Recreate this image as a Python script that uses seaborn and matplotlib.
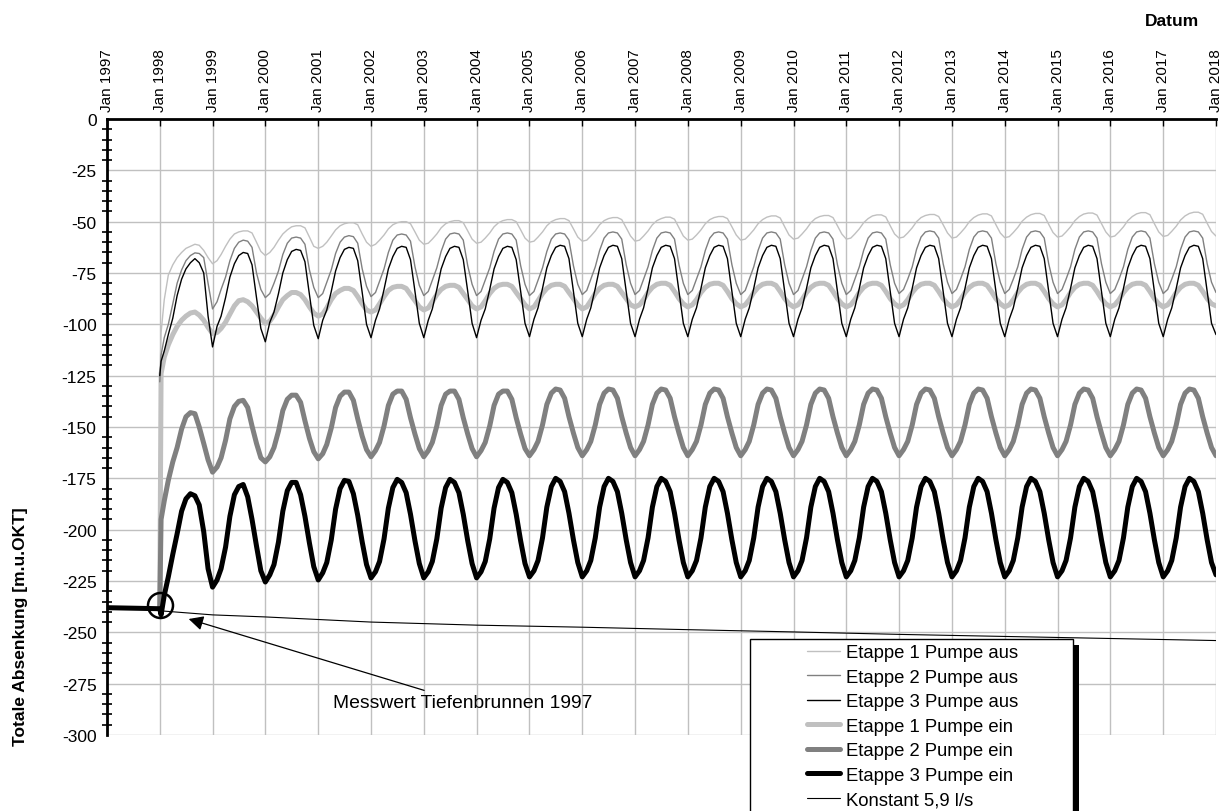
import numpy as np
import pandas as pd
import matplotlib
matplotlib.use("Agg")
import matplotlib.pyplot as plt
import matplotlib.dates as mdates
from matplotlib.ticker import MultipleLocator
from matplotlib.patches import Rectangle
from matplotlib.lines import Line2D
import seaborn as sns

nan = np.nan

# ---------------- data ----------------
# x: 1997-01-01, 1998-01-01, 1998-01-10, then monthly 1998-02-01 ... 2018-01-01
dates = pd.to_datetime(["1997-01-01", "1998-01-01", "1998-01-10"]).append(
    pd.date_range("1998-02-01", "2018-01-01", freq="MS"))

etappe1_aus = [
    nan, -131, -104, -88, -76, -71, -67.5, -65, -63, -62, -61, -61.5, -64, -67.5,
    -70.5, -69, -66, -62, -58.5, -56, -55, -54.5, -54.5, -55.5, -60, -64.5,
    -66.5, -65, -62.5, -59, -56, -54, -52.5, -52, -52, -53, -57.5, -62,
    -63, -62, -60, -57, -54, -52, -51, -50.5, -50.5, -51.5, -56, -60,
    -62, -61, -59, -56.5, -53.5, -51.5, -50.5, -50, -50, -51, -55, -59,
    -61, -60.5, -58.5, -56, -53, -51, -50, -49.5, -49.5, -50.5, -54.5, -58.5,
    -60.5, -60, -58, -55.5, -52.5, -50.5, -49.5, -49, -49, -50, -54, -58,
    -60, -59.5, -57.5, -55, -52, -50, -49, -48.5, -48.5, -49.5, -53.5, -57.5,
    -59.5, -59, -57, -54.5, -51.5, -49.5, -48.5, -48, -48, -49, -53, -57,
    -59.5, -59, -57, -54.5, -51.5, -49.5, -48.5, -47.8, -47.8, -48.8, -53, -57,
    -59, -58.5, -56.5, -54, -51, -49, -48, -47.5, -47.5, -48.5, -52.5, -56.5,
    -59, -58.5, -56.5, -54, -51, -49, -47.8, -47.2, -47.2, -48.2, -52.5, -56.5,
    -58.5, -58, -56, -53.5, -50.5, -48.5, -47.5, -47, -47, -48, -52, -56,
    -58.5, -58, -56, -53.5, -50.5, -48.5, -47.2, -46.7, -46.7, -47.7, -52, -56,
    -58, -57.5, -55.5, -53, -50, -48, -47, -46.5, -46.5, -47.5, -51.5, -55.5,
    -58, -57.5, -55.5, -53, -50, -48, -46.8, -46.2, -46.2, -47.2, -51.5, -55.5,
    -57.8, -57.3, -55.3, -52.8, -49.8, -47.8, -46.6, -46, -46, -47, -51.3, -55.3,
    -57.5, -57, -55, -52.5, -49.5, -47.5, -46.3, -45.8, -45.8, -46.8, -51, -55,
    -57.5, -57, -55, -52.5, -49.5, -47.5, -46.2, -45.6, -45.6, -46.6, -51, -55,
    -57.2, -56.7, -54.7, -52.2, -49.2, -47.2, -46, -45.4, -45.4, -46.4, -50.8, -54.8,
    -57,
]

etappe2_aus = [
    nan, -128, -115, -106.5, -100, -90, -80, -73.5, -69, -66.5, -65.2, -65.5, -67.5, -80,
    -92.5, -89, -83, -77, -69, -63, -60, -59, -59.5, -62.5, -75, -83,
    -87, -85, -80, -74, -66, -60.5, -58, -57.5, -58, -61, -73.5, -82,
    -87, -85, -79.5, -73.5, -65.5, -60, -57.5, -56.8, -57.3, -60.5, -73, -81.5,
    -86.5, -84.5, -79, -73, -65, -59, -56.5, -56, -56.5, -59.5, -72, -81,
    -86, -84, -78.5, -72.5, -64.5, -58.5, -56, -55.5, -56, -59, -71.5, -80.5,
    -86, -84, -78.5, -72.5, -64.5, -58.5, -56, -55.5, -56, -59, -71.5, -80.5,
    -86, -84, -78.5, -72.5, -64.5, -58.5, -56, -55.5, -56, -59, -71.5, -80.5,
    -85.5, -83.5, -78, -72, -64, -58, -55.5, -55, -55.5, -58.5, -71, -80,
    -85.5, -83.5, -78, -72, -64, -58, -55.5, -55, -55.5, -58.5, -71, -80,
    -85.5, -83.5, -78, -72, -64, -58, -55.5, -55, -55.5, -58.5, -71, -80,
    -85.5, -83.5, -78, -72, -64, -58, -55.5, -55, -55.5, -58.5, -71, -80,
    -85.5, -83.5, -78, -72, -64, -58, -55.5, -55, -55.5, -58.5, -71, -80,
    -85.5, -83.5, -78, -72, -64, -58, -55.5, -55, -55.5, -58.5, -71, -80,
    -85, -83, -78, -72, -63.5, -57.5, -55, -54.5, -55, -58, -70.5, -79.5,
    -85, -83, -78, -72, -63.5, -57.5, -55, -54.5, -55, -58, -70.5, -79.5,
    -85, -83, -78, -72, -63.5, -57.5, -55, -54.5, -55, -58, -70.5, -79.5,
    -85, -83, -78, -72, -63.5, -57.5, -55, -54.5, -55, -58, -70.5, -79.5,
    -85, -83, -78, -72, -63.5, -57.5, -55, -54.5, -55, -58, -70.5, -79.5,
    -85, -83, -78, -72, -63.5, -57.5, -55, -54.5, -55, -58, -70.5, -79.5,
    -84.5,
]

etappe3_aus = [
    nan, -125, -118, -113, -105, -97, -86, -78, -73, -70, -68, -70, -75, -96,
    -111, -101, -96, -87, -77, -70.5, -66.5, -65, -65.5, -71, -87, -102,
    -108.5, -99, -94, -85, -75, -68.5, -64.5, -63.5, -64, -69.5, -85.5, -100.5,
    -107, -98, -93, -84, -74, -67.5, -63.5, -62.5, -63, -69, -84.5, -100,
    -106.5, -98, -92.5, -83, -73, -67, -63, -62, -62.5, -68.5, -84, -99.5,
    -106.5, -98, -92.5, -83, -73, -67, -63, -62, -62.5, -68.5, -84, -99.5,
    -106.5, -98, -92.5, -83, -73, -67, -63, -62, -62.5, -68.5, -84, -99.5,
    -106, -97.5, -92, -82.5, -72.5, -66.5, -62.5, -61.5, -62, -68, -84, -99.5,
    -106, -97.5, -92, -82.5, -72.5, -66.5, -62.5, -61.5, -62, -68, -84, -99.5,
    -106, -97.5, -92, -82.5, -72.5, -66.5, -62.5, -61.5, -62, -68, -84, -99.5,
    -106, -97.5, -92, -82.5, -72.5, -66.5, -62.5, -61.5, -62, -68, -84, -99.5,
    -106, -97.5, -92, -82.5, -72.5, -66.5, -62.5, -61.5, -62, -68, -84, -99.5,
    -106, -97.5, -92, -82.5, -72.5, -66.5, -62.5, -61.5, -62, -68, -84, -99.5,
    -106, -97.5, -92, -82.5, -72.5, -66.5, -62.5, -61.5, -62, -68, -84, -99.5,
    -106, -97.5, -92, -82.5, -72.5, -66.5, -62.5, -61.5, -62, -68, -84, -99.5,
    -106, -97.5, -92, -82.5, -72.5, -66.5, -62.5, -61.5, -62, -68, -84, -99.5,
    -106, -97.5, -92, -82.5, -72.5, -66.5, -62.5, -61.5, -62, -68, -84, -99.5,
    -106, -97.5, -92, -82.5, -72.5, -66.5, -62.5, -61.5, -62, -68, -84, -99.5,
    -106, -97.5, -92, -82.5, -72.5, -66.5, -62.5, -61.5, -62, -68, -84, -99.5,
    -106, -97.5, -92, -82.5, -72.5, -66.5, -62.5, -61.5, -62, -68, -84, -99.5,
    -105,
]

etappe1_ein = [
    nan, -238, -124, -116, -110, -105, -101, -98, -96, -94.5, -94, -95.5, -98, -101.5,
    -104.5, -104, -102, -99, -95, -91, -88.5, -88, -89, -91, -94, -97,
    -99.5, -98.5, -95.5, -91.5, -88, -86, -84.5, -84.5, -85.5, -88, -91.5, -94.5,
    -96, -95, -92, -88, -85, -83.5, -82.5, -82.5, -83.5, -86.5, -90, -93,
    -94, -93, -90, -86.5, -83.5, -82, -81.5, -81.5, -82.5, -85.5, -88.5, -91.5,
    -93, -92, -89, -85.5, -83, -81.5, -81, -81, -82, -85, -88, -91,
    -92.5, -91.5, -88.5, -85, -82.5, -81, -80.5, -80.5, -81.5, -84.5, -87.5, -90.5,
    -92.5, -91.5, -88.5, -85, -82.5, -81, -80.5, -80.5, -81.5, -84.5, -87.5, -90.5,
    -92.5, -91.5, -88.5, -85, -82.5, -81, -80.5, -80.5, -81.5, -84.5, -87.5, -90.5,
    -91.5, -90.5, -88, -84.5, -82, -80.5, -80, -80, -81, -84, -87.5, -90,
    -91.5, -90.5, -88, -84.5, -82, -80.5, -80, -80, -81, -84, -87.5, -90,
    -91.5, -90.5, -88, -84.5, -82, -80.5, -80, -80, -81, -84, -87.5, -90,
    -91.5, -90.5, -88, -84.5, -82, -80.5, -80, -80, -81, -84, -87.5, -90,
    -91.5, -90.5, -88, -84.5, -82, -80.5, -80, -80, -81, -84, -87.5, -90,
    -91.5, -90.5, -88, -84.5, -82, -80.5, -80, -80, -81, -84, -87.5, -90,
    -91.5, -90.5, -88, -84.5, -82, -80.5, -80, -80, -81, -84, -87.5, -90,
    -91.5, -90.5, -88, -84.5, -82, -80.5, -80, -80, -81, -84, -87.5, -90,
    -91.5, -90.5, -88, -84.5, -82, -80.5, -80, -80, -81, -84, -87.5, -90,
    -91.5, -90.5, -88, -84.5, -82, -80.5, -80, -80, -81, -84, -87.5, -90,
    -91.5, -90.5, -88, -84.5, -82, -80.5, -80, -80, -81, -84, -87.5, -90,
    -91,
]

etappe2_ein = [
    nan, -238, -195, -186, -176, -167, -160, -151, -145, -143, -143.5, -150, -158, -166,
    -172, -169.5, -165, -156.5, -146, -140, -137.5, -137, -140.5, -149.5, -158, -165,
    -167, -164.5, -160, -152, -142, -136.5, -134.5, -134.5, -138, -147, -155.5, -162,
    -165.5, -163, -158.5, -150.5, -140.5, -135, -133, -133, -137, -146, -154.5, -161,
    -164.5, -161.5, -157.5, -149.5, -139.5, -134, -132.5, -132.5, -136.5, -145.5, -153.5, -160.5,
    -164.5, -161.5, -157.5, -149.5, -139.5, -134, -132.5, -132.5, -136.5, -145.5, -153.5, -160.5,
    -164.5, -161.5, -157.5, -149.5, -139.5, -134, -132.5, -132.5, -136.5, -145.5, -153.5, -160.5,
    -164, -161, -157, -149, -139, -133.5, -131.5, -132, -136, -145, -153, -160,
    -164, -161, -157, -149, -139, -133.5, -131.5, -132, -136, -145, -153, -160,
    -164, -161, -157, -149, -139, -133.5, -131.5, -132, -136, -145, -153, -160,
    -164, -161, -157, -149, -139, -133.5, -131.5, -132, -136, -145, -153, -160,
    -164, -161, -157, -149, -139, -133.5, -131.5, -132, -136, -145, -153, -160,
    -164, -161, -157, -149, -139, -133.5, -131.5, -132, -136, -145, -153, -160,
    -164, -161, -157, -149, -139, -133.5, -131.5, -132, -136, -145, -153, -160,
    -164, -161, -157, -149, -139, -133.5, -131.5, -132, -136, -145, -153, -160,
    -164, -161, -157, -149, -139, -133.5, -131.5, -132, -136, -145, -153, -160,
    -164, -161, -157, -149, -139, -133.5, -131.5, -132, -136, -145, -153, -160,
    -164, -161, -157, -149, -139, -133.5, -131.5, -132, -136, -145, -153, -160,
    -164, -161, -157, -149, -139, -133.5, -131.5, -132, -136, -145, -153, -160,
    -164, -161, -157, -149, -139, -133.5, -131.5, -132, -136, -145, -153, -160,
    -164,
]

etappe3_ein = [
    -238, -238.5, -241.5, -232, -223, -212, -202, -191, -185, -182.5, -183.5, -188, -201, -219,
    -228, -224.5, -219, -208.5, -193.5, -183, -179, -178, -184, -195, -208, -220,
    -225.5, -222, -217, -206, -191, -181, -177, -177, -183, -193.5, -206.5, -218,
    -224.5, -221, -216, -205, -190, -180, -176, -176.5, -182.5, -193, -206, -217,
    -223.5, -220.5, -215.5, -204.5, -189.5, -179.5, -175.5, -177, -182, -192.5, -205.5, -216.5,
    -223.5, -220.5, -215.5, -204.5, -189.5, -179.5, -175.5, -177, -182, -192.5, -205.5, -216.5,
    -223.5, -220.5, -215.5, -204.5, -189.5, -179.5, -175.5, -177, -182, -192.5, -205.5, -216.5,
    -223, -220, -215, -204, -189, -179, -175, -176.5, -181.5, -192, -205, -216,
    -223, -220, -215, -204, -189, -179, -175, -176.5, -181.5, -192, -205, -216,
    -223, -220, -215, -204, -189, -179, -175, -176.5, -181.5, -192, -205, -216,
    -223, -220, -215, -204, -189, -179, -175, -176.5, -181.5, -192, -205, -216,
    -223, -220, -215, -204, -189, -179, -175, -176.5, -181.5, -192, -205, -216,
    -223, -220, -215, -204, -189, -179, -175, -176.5, -181.5, -192, -205, -216,
    -223, -220, -215, -204, -189, -179, -175, -176.5, -181.5, -192, -205, -216,
    -223, -220, -215, -204, -189, -179, -175, -176.5, -181.5, -192, -205, -216,
    -223, -220, -215, -204, -189, -179, -175, -176.5, -181.5, -192, -205, -216,
    -223, -220, -215, -204, -189, -179, -175, -176.5, -181.5, -192, -205, -216,
    -223, -220, -215, -204, -189, -179, -175, -176.5, -181.5, -192, -205, -216,
    -223, -220, -215, -204, -189, -179, -175, -176.5, -181.5, -192, -205, -216,
    -223, -220, -215, -204, -189, -179, -175, -176.5, -181.5, -192, -205, -216,
    -222,
]

konstant_dates = pd.to_datetime(["1998-01-01", "1999-01-01", "2000-01-01", "2002-01-01",
                                 "2004-01-01", "2006-01-01", "2008-01-01", "2010-01-01",
                                 "2012-01-01", "2014-01-01", "2016-01-01", "2018-01-01"])
konstant_values = [-239.5, -241.5, -242.5, -245, -246.5, -247.5, -248.7, -249.8,
                   -251, -252, -253, -254]

messwert_date = pd.Timestamp("1998-01-01")
messwert_value = -236.5

series_names = ["Etappe 1 Pumpe aus", "Etappe 2 Pumpe aus", "Etappe 3 Pumpe aus",
                "Etappe 1 Pumpe ein", "Etappe 2 Pumpe ein", "Etappe 3 Pumpe ein"]
series_values = [etappe1_aus, etappe2_aus, etappe3_aus, etappe1_ein, etappe2_ein, etappe3_ein]
konstant_name = "Konstant 5,9 l/s"

# ---------------- style ----------------
sns.set_style("white")
plt.rcParams["font.family"] = ["Liberation Sans", "DejaVu Sans"]
plt.rcParams["axes.unicode_minus"] = False
plt.rcParams["text.color"] = "black"
plt.rcParams["xtick.color"] = "black"
plt.rcParams["ytick.color"] = "black"

colors = {"Etappe 1 Pumpe aus": "#c0c0c0", "Etappe 2 Pumpe aus": "#808080",
          "Etappe 3 Pumpe aus": "#000000", "Etappe 1 Pumpe ein": "#c0c0c0",
          "Etappe 2 Pumpe ein": "#808080", "Etappe 3 Pumpe ein": "#000000",
          konstant_name: "#000000"}
widths = {"Etappe 1 Pumpe aus": 1.0, "Etappe 2 Pumpe aus": 1.0, "Etappe 3 Pumpe aus": 1.0,
          "Etappe 1 Pumpe ein": 3.6, "Etappe 2 Pumpe ein": 3.6, "Etappe 3 Pumpe ein": 3.6,
          konstant_name: 0.8}

frames = []
for name, vals in zip(series_names, series_values):
    assert len(vals) == len(dates), (name, len(vals), len(dates))
    frames.append(pd.DataFrame({"Datum": dates, "Absenkung": vals, "Serie": name}))
df = pd.concat(frames, ignore_index=True).dropna()
df_k = pd.DataFrame({"Datum": konstant_dates, "Absenkung": konstant_values, "Serie": konstant_name})

W, H = 1221, 812
fig = plt.figure(figsize=(W / 100, H / 100), dpi=100)
ax = fig.add_axes([107 / W, 1 - 736 / H, (1216 - 107) / W, (736 - 120) / H])

draw_order = ["Etappe 1 Pumpe ein", "Etappe 2 Pumpe ein", "Etappe 3 Pumpe ein",
              "Etappe 1 Pumpe aus", "Etappe 2 Pumpe aus", "Etappe 3 Pumpe aus"]
for name in draw_order:
    sub = df[df["Serie"] == name]
    sns.lineplot(data=sub, x="Datum", y="Absenkung", color=colors[name],
                 linewidth=widths[name], estimator=None, sort=False, ax=ax,
                 legend=False, zorder=3)
sns.lineplot(data=df_k, x="Datum", y="Absenkung", color="black", linewidth=widths[konstant_name],
             estimator=None, sort=False, ax=ax, legend=False, zorder=3)

ax.plot([messwert_date], [messwert_value], marker="o", ms=18, mfc="none", mec="black",
        mew=1.8, zorder=4, clip_on=False)

ax.annotate("Messwert Tiefenbrunnen 1997",
            xy=(pd.Timestamp("1998-07-20"), -243.5),
            xytext=(pd.Timestamp("2001-04-15"), -284),
            fontsize=13.9, ha="left", va="center",
            arrowprops=dict(arrowstyle="-|>", color="black", lw=0.9,
                            mutation_scale=22, shrinkA=0, shrinkB=0),
            zorder=5)

ax.set_xlim(pd.Timestamp("1997-01-01"), pd.Timestamp("2018-01-01"))
ax.set_ylim(-300, 0)
ax.set_xlabel("")
ax.set_ylabel("")

ax.xaxis.tick_top()
ax.xaxis.set_major_locator(mdates.YearLocator())
ax.xaxis.set_major_formatter(mdates.DateFormatter("%b %Y"))
ax.tick_params(axis="x", which="major", direction="in", length=5, width=1,
               labelsize=11, rotation=90, pad=6)
ax.set_yticks(np.arange(-300, 1, 25))
ax.yaxis.set_minor_locator(MultipleLocator(5))
ax.tick_params(axis="y", which="major", direction="inout", length=9, width=1.5, labelsize=12.5, pad=3)
ax.tick_params(axis="y", which="minor", direction="inout", length=7, width=1.2, left=True)

ax.grid(True, which="major", color="#c0c0c0", linewidth=1)
ax.set_axisbelow(True)
for s in ["right", "bottom"]:
    ax.spines[s].set_visible(False)
for s in ["left", "top"]:
    ax.spines[s].set_color("black")
    ax.spines[s].set_linewidth(2)

fig.text(21 / W, 1 - 627 / H, "Totale Absenkung [m.u.OKT]", rotation=90,
         fontweight="bold", fontsize=12.5, ha="center", va="center")
fig.text(1172 / W, 1 - 22 / H, "Datum", fontweight="bold", fontsize=12.5,
         ha="center", va="center")

# legend box (Excel style: frame with shadow, running off the bottom)
shadow = Rectangle((756 / W, 1 - 900 / H), (1073 - 750) / W, (900 - 646) / H,
                   transform=fig.transFigure, facecolor="black", edgecolor="none", zorder=4)
frame = Rectangle((750 / W, 1 - 900 / H), (1073 - 750) / W, (900 - 640) / H,
                  transform=fig.transFigure, facecolor="white", edgecolor="black",
                  linewidth=1, zorder=4.5)
fig.add_artist(shadow)
fig.add_artist(frame)

handles = [Line2D([], [], color=colors[n], linewidth=widths[n]) for n in series_names]
handles.append(Line2D([], [], color="black", linewidth=widths[konstant_name]))
labels = series_names + [konstant_name]
leg = fig.legend(handles, labels, loc="upper left", bbox_to_anchor=(807 / W, 1 - 645 / H),
                 frameon=False, fontsize=13.3, handlelength=1.8, handletextpad=0.3,
                 labelspacing=0.41, borderpad=0, borderaxespad=0)
leg.set_zorder(6)

fig.savefig("out.png", dpi=100)
